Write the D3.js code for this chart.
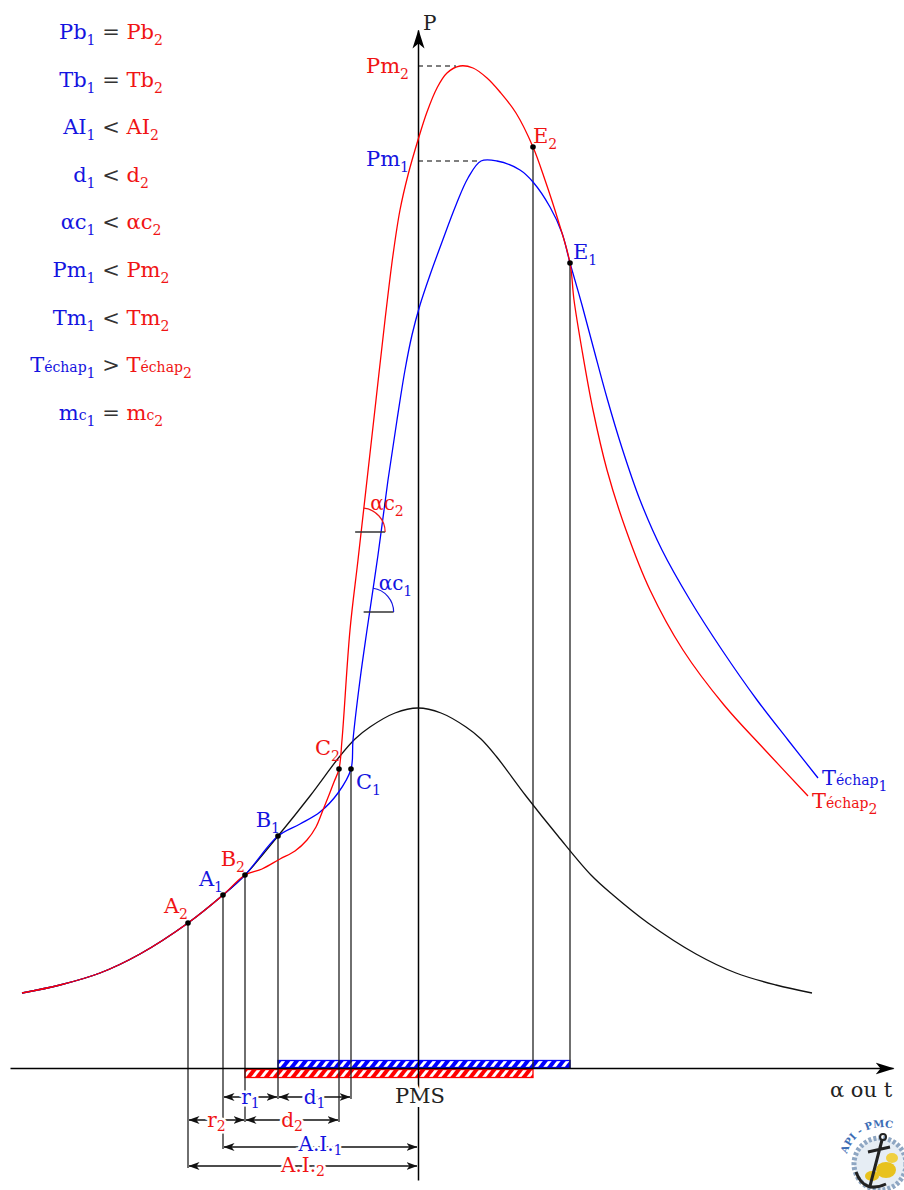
<!DOCTYPE html>
<html>
<head>
<meta charset="utf-8">
<script src="https://cdn.jsdelivr.net/npm/d3@7"></script>
<style>
body { margin: 0; background: #fff; }
svg { display: block; }
text { font-family: "DejaVu Serif", serif; white-space: pre; }
</style>
</head>
<body>
<div id="chart"></div>
<script>
// crank angle (deg, PMS = 0) and pressure
const blackAngle = [-99, -89.5, -79.5, -69.5, -57.5, -48.75, -43.25, -35, -27, -19.5, -15.75, -12, -5.75, 0, 5.75, 12, 15.75, 19.5, 27, 35, 43.25, 48.75, 57.5, 69.5, 79.5, 89.5, 98.5];
const blackP = [7.5, 8.3, 9.5, 11.4, 14.5, 17.3, 19.3, 23.2, 27.2, 31.2, 32.9, 34.1, 35.5, 36, 35.5, 34.1, 32.9, 31.2, 27.2, 23.2, 19.3, 17.3, 14.5, 11.4, 9.5, 8.3, 7.5];

const blueAngle = [-99, -89.5, -79.5, -69.5, -57.5, -48.75, -43.25, -35, -29.5, -24.5, -20, -16.75, -16.25, -14.5, -12.75, -10, -7.5, -5.25, -3.25, -1.5, 0.5, 3, 6, 9.5, 12.5, 15.75, 19.75, 25.5, 28.75, 33, 36, 38, 41, 44, 47.25, 51, 55.5, 61, 68, 76, 84.75, 92.5, 100];
const blueP = [7.5, 8.3, 9.5, 11.4, 14.5, 17.3, 19.3, 23.2, 24.4, 25.6, 27.5, 29.9, 32.8, 38.8, 43.8, 51.3, 58.8, 64.8, 69.8, 73.3, 76.3, 79.3, 82.6, 86.3, 89, 90.7, 90.7, 89.8, 88.6, 86.1, 83.5, 80.5, 76.3, 71.8, 67, 62, 56.8, 51.8, 46.8, 41.8, 36.8, 32.8, 29];

const redAngle = [-99, -89.5, -79.5, -69.5, -57.5, -48.75, -43.25, -39, -34.5, -30.75, -27.75, -25.5, -23.75, -22.25, -21, -19.75, -19, -17, -15, -12.75, -10.5, -8.25, -6.25, -4.5, -2.5, 0, 2.25, 4.75, 7.25, 10.5, 13.75, 17.25, 20.5, 24.5, 28.75, 31.75, 35, 38, 39, 41, 43.75, 47.25, 52, 58, 66.25, 76.5, 86.75, 97.5];
const redP = [7.5, 8.3, 9.5, 11.4, 14.5, 17.3, 19.3, 19.9, 20.9, 21.7, 22.8, 24.1, 25.8, 27.3, 28.6, 29.9, 32.8, 43.8, 50.8, 58.8, 66.8, 74.8, 81.3, 85.8, 89.3, 92.8, 95.6, 98, 99.5, 100.2, 100, 99, 97.6, 95.5, 92.1, 88.8, 84.8, 80.5, 76.8, 71.8, 65.8, 59.8, 53.8, 47.8, 41.8, 36.3, 31.8, 27.2];

// marked points on the curves
const pointNames = ["A_2", "A_1", "B_2", "B_1", "C_2", "C_1", "E_2", "E_1"];
const pointAngle = [-57.5, -48.75, -43.25, -35, -19.75, -16.75, 28.75, 38];
const pointP = [14.5, 17.3, 19.3, 23.2, 29.9, 29.9, 92.1, 80.5];

// dimension lines under the axis
const dimLabels = ["r_1", "d_1", "r_2", "d_2", "A.I._1", "A.I._2"];
const dimFrom = ["A_1", "B_1", "A_2", "B_2", "A_1", "A_2"];
const dimTo = ["B_1", "C_1", "B_2", "C_2", "PMS", "PMS"];

// angle of combustion marks (pressure where the mark sits)
const alphaLabels = ["αc_1", "αc_2"];
const alphaP = [45.6, 53.6];

const legendLeft = ["Pb_1", "Tb_1", "AI_1", "d_1", "αc_1", "Pm_1", "Tm_1", "T~échap_1", "m~c_1"];
const legendOp = ["=", "=", "<", "<", "<", "<", "<", ">", "="];
const legendRight = ["Pb_2", "Tb_2", "AI_2", "d_2", "αc_2", "Pm_2", "Tm_2", "T~échap_2", "m~c_2"];

const BLUE = "#0000ff", RED = "#ff0000", BLUE_T = "#1414e0", RED_T = "#f01414";

const W = 904, H = 1190;
const svg = d3.select("#chart").append("svg").attr("width", W).attr("height", H);

const x = d3.scaleLinear().domain([-102, 118.75]).range([10, 893]);
const y = d3.scaleLinear().domain([0, 100]).range([1068, 68]);
const pAxis = y.copy().domain([-11.2, 103.8]).range([y(-11.2), y(103.8)]);

const defs = svg.append("defs");
defs.append("marker").attr("id", "bigArrow")
  .attr("viewBox", "0 -7 19 14").attr("refX", 18).attr("refY", 0)
  .attr("markerWidth", 19).attr("markerHeight", 14)
  .attr("markerUnits", "userSpaceOnUse").attr("orient", "auto")
  .append("path").attr("d", "M0,-6L19,0L0,6L5,0Z").attr("fill", "#000");
defs.append("marker").attr("id", "dimArrow")
  .attr("viewBox", "0 -5 11 10").attr("refX", 10.5).attr("refY", 0)
  .attr("markerWidth", 11).attr("markerHeight", 10)
  .attr("markerUnits", "userSpaceOnUse").attr("orient", "auto-start-reverse")
  .append("path").attr("d", "M0,-4L11,0L0,4L3,0Z").attr("fill", "#111");

function hatch(id, color) {
  const p = defs.append("pattern").attr("id", id)
    .attr("patternUnits", "userSpaceOnUse").attr("width", 7).attr("height", 7)
    .attr("patternTransform", "rotate(38)");
  p.append("rect").attr("width", 7).attr("height", 7).attr("fill", color);
  p.append("rect").attr("width", 3).attr("height", 7).attr("fill", "#fff");
}
hatch("hatchBlue", BLUE);
hatch("hatchRed", RED);

// text with optional small part (~) and subscript (_)
function rich(t, spec, size, color, lead, dropK) {
  const [main, sub] = spec.split("_");
  const [base, small] = main.split("~");
  const s = Math.round(size * 0.68);
  const drop = Math.round(size * (dropK || 0.28));
  t.append("tspan").attr("dy", lead || 0).attr("fill", color).text(base);
  if (small) t.append("tspan").attr("font-size", s).attr("fill", color).text(small);
  if (sub) t.append("tspan").attr("font-size", s).attr("dy", drop).attr("fill", color).text(sub);
  return sub ? drop : 0;
}
const colorOf = (name) => name.endsWith("1") ? BLUE_T : RED_T;

// legend
legendLeft.forEach((l, i) => {
  const t = svg.append("text").attr("x", 111).attr("y", 39 + i * 47.6)
    .attr("text-anchor", "middle").attr("font-size", 21);
  const d = rich(t, l, 21, BLUE_T);
  t.append("tspan").attr("dy", -d).attr("fill", "#333").text(" " + legendOp[i] + " ");
  rich(t, legendRight[i], 21, RED_T);
});

const pt = {};
pointNames.forEach((n, i) => pt[n] = [pointAngle[i], pointP[i]]);
pt.PMS = [0, 0];
const y0 = y(0);

// hatched bars: combustion durations
svg.append("rect").attr("x", x(pt.B_1[0])).attr("y", y0 - 7.5)
  .attr("width", x(pt.E_1[0]) - x(pt.B_1[0])).attr("height", 7)
  .attr("fill", "url(#hatchBlue)").attr("stroke", BLUE).attr("stroke-width", 1.3);
svg.append("rect").attr("x", x(pt.B_2[0])).attr("y", y0 + 1.5)
  .attr("width", x(pt.E_2[0]) - x(pt.B_2[0])).attr("height", 8)
  .attr("fill", "url(#hatchRed)").attr("stroke", RED).attr("stroke-width", 1.3);

// drop lines
const dropDepth = { A_2: 100, A_1: 81, B_2: 54, B_1: 31, C_2: 54, C_1: 31, E_2: 0, E_1: 0 };
pointNames.forEach((n) => {
  svg.append("line").attr("x1", x(pt[n][0])).attr("x2", x(pt[n][0]))
    .attr("y1", y(pt[n][1])).attr("y2", y0 + dropDepth[n])
    .attr("stroke", "#222").attr("stroke-width", 1.3);
});

// axes
svg.append("g").attr("transform", `translate(0,${y0})`)
  .call(d3.axisBottom(x).tickValues([]).tickSizeOuter(0))
  .select(".domain").attr("stroke", "#000").attr("stroke-width", 1.5).attr("marker-end", "url(#bigArrow)");
svg.append("g").attr("transform", `translate(${x(0)},0)`)
  .call(d3.axisLeft(pAxis).tickValues([]).tickSizeOuter(0))
  .select(".domain").attr("stroke", "#000").attr("stroke-width", 1.5).attr("marker-end", "url(#bigArrow)");

// dimension lines
const dimRow = [29, 29, 52, 52, 79, 98];
const dimBase = [7, 7, 7, 7, 4, 6];
dimLabels.forEach((l, i) => {
  const xa = x(pt[dimFrom[i]][0]), xb = x(pt[dimTo[i]][0]), yy = y0 + dimRow[i];
  svg.append("line").attr("x1", xa + 1).attr("x2", xb - 1).attr("y1", yy).attr("y2", yy)
    .attr("stroke", "#111").attr("stroke-width", 1.3)
    .attr("marker-start", "url(#dimArrow)").attr("marker-end", "url(#dimArrow)");
  const t = svg.append("text").attr("x", (xa + xb) / 2).attr("y", yy + dimBase[i])
    .attr("text-anchor", "middle").attr("font-size", 20)
    .attr("stroke", "#fff").attr("stroke-width", 5).attr("paint-order", "stroke");
  rich(t, l, 20, colorOf(l), 0, 0.2);
});

// curves
const line = d3.line().x((d) => x(d[0])).y((d) => y(d[1])).curve(d3.curveCatmullRom.alpha(0.5));
const series = [
  { a: blackAngle, p: blackP, c: "#111" },
  { a: blueAngle, p: blueP, c: BLUE },
  { a: redAngle, p: redP, c: RED },
];
series.forEach((s) => {
  svg.append("path").datum(s.a.map((a, i) => [a, s.p[i]]))
    .attr("d", line).attr("fill", "none").attr("stroke", s.c).attr("stroke-width", 1.3);
});

// peak pressure dashes
[[blueAngle, blueP, "Pm_1", BLUE_T, 5], [redAngle, redP, "Pm_2", RED_T, 7]].forEach(([a, p, l, c, off]) => {
  const m = d3.maxIndex(p);
  svg.append("line").attr("x1", x(0)).attr("x2", x(a[m]) - 4).attr("y1", y(p[m])).attr("y2", y(p[m]))
    .attr("stroke", "#000").attr("stroke-width", 1.2).attr("stroke-dasharray", "5,4");
  const t = svg.append("text").attr("x", x(0) - 9).attr("y", y(p[m]) + off)
    .attr("text-anchor", "end").attr("font-size", 21);
  rich(t, l, 21, c);
});

// points and labels
const labelPos = {
  A_2: ["end", 0, -10], A_1: ["end", 0, -9], B_2: ["end", 0, -9], B_1: ["end", 2, -9],
  C_2: ["end", 1, -14], C_1: ["start", 5, 20], E_2: ["start", 0, -4], E_1: ["start", 3, -4],
};
pointNames.forEach((n) => {
  const px = x(pt[n][0]), py = y(pt[n][1]);
  svg.append("circle").attr("cx", px).attr("cy", py).attr("r", 2.8).attr("fill", "#000");
  const [anc, dx, dy] = labelPos[n];
  const t = svg.append("text").attr("x", px + dx).attr("y", py + dy)
    .attr("text-anchor", anc).attr("font-size", 21);
  rich(t, n, 21, colorOf(n));
});

// combustion angle marks
function angleAtP(a, p, target) {
  for (let i = 1; i < p.length; i++) {
    if (p[i - 1] <= target && p[i] >= target && a[i] < 0) {
      const f = (target - p[i - 1]) / (p[i] - p[i - 1]);
      return [a[i - 1] + f * (a[i] - a[i - 1]), i];
    }
  }
}
[[blueAngle, blueP, BLUE_T], [redAngle, redP, RED_T]].forEach(([a, p, c], k) => {
  const [ang, i] = angleAtP(a, p, alphaP[k]);
  const cx = x(ang), cy = y(alphaP[k]);
  const dir = Math.atan2(y(p[i]) - y(p[i - 1]), x(a[i]) - x(a[i - 1]));
  svg.append("line").attr("x1", cx - 6).attr("x2", cx + 24).attr("y1", cy).attr("y2", cy)
    .attr("stroke", "#333").attr("stroke-width", 1.5);
  const r = 24, path = d3.path();
  path.moveTo(cx + r * Math.cos(dir), cy + r * Math.sin(dir));
  path.arc(cx, cy, r, dir, 0);
  svg.append("path").attr("d", path.toString()).attr("fill", "none").attr("stroke", c).attr("stroke-width", 1.2);
  const t = svg.append("text").attr("x", cx + 9).attr("y", cy - 22).attr("font-size", 20);
  rich(t, alphaLabels[k], 20, c);
});

// end labels
const tEnd1 = svg.append("text").attr("x", x(blueAngle[blueAngle.length - 1]) + 4)
  .attr("y", y(blueP[blueP.length - 1]) + 7).attr("font-size", 21);
rich(tEnd1, "T~échap_1", 21, BLUE_T);
const tEnd2 = svg.append("text").attr("x", x(redAngle[redAngle.length - 1]) + 4)
  .attr("y", y(redP[redP.length - 1]) + 12).attr("font-size", 21);
rich(tEnd2, "T~échap_2", 21, RED_T);

// axis labels
svg.append("text").attr("x", x(0) + 5).attr("y", pAxis(103.8)).attr("font-size", 20).attr("fill", "#222").text("P");
svg.append("text").attr("x", x(0) + 2).attr("y", y0 + 35).attr("text-anchor", "middle")
  .attr("font-size", 21).attr("fill", "#222")
  .attr("stroke", "#fff").attr("stroke-width", 8).attr("paint-order", "stroke").text("PMS");
svg.append("text").attr("x", 830).attr("y", y0 + 29).attr("font-size", 21).attr("fill", "#222").text("α ou t");

// small logo, bottom right
const logo = svg.append("g").attr("transform", "translate(880,1164)");
logo.append("circle").attr("r", 26).attr("fill", "#e6edf4").attr("stroke", "#8ea6c2")
  .attr("stroke-width", 5).attr("stroke-dasharray", "3 2");
logo.append("ellipse").attr("cx", 6).attr("cy", 6).attr("rx", 10).attr("ry", 8).attr("fill", "#e8c21e");
logo.append("ellipse").attr("cx", -8).attr("cy", 12).attr("rx", 7).attr("ry", 5).attr("fill", "#e8c21e");
logo.append("ellipse").attr("cx", 12).attr("cy", -6).attr("rx", 6).attr("ry", 5).attr("fill", "#f0d040");
logo.append("path").attr("d", "M2,-24L-10,22M-12,-12L10,-17M-24,8Q-16,30 6,20")
  .attr("fill", "none").attr("stroke", "#222").attr("stroke-width", 3);
logo.append("circle").attr("cx", 3).attr("cy", -27).attr("r", 3).attr("fill", "none").attr("stroke", "#222").attr("stroke-width", 2);
defs.append("path").attr("id", "logoArc").attr("d", "M-33,-10A36,36 0 0 1 36,-12");
logo.append("text").attr("font-family", "DejaVu Sans").attr("font-weight", "bold").attr("font-size", 10)
  .attr("fill", "#3d6db5").append("textPath").attr("href", "#logoArc").text("API - PMC");
</script>
</body>
</html>
